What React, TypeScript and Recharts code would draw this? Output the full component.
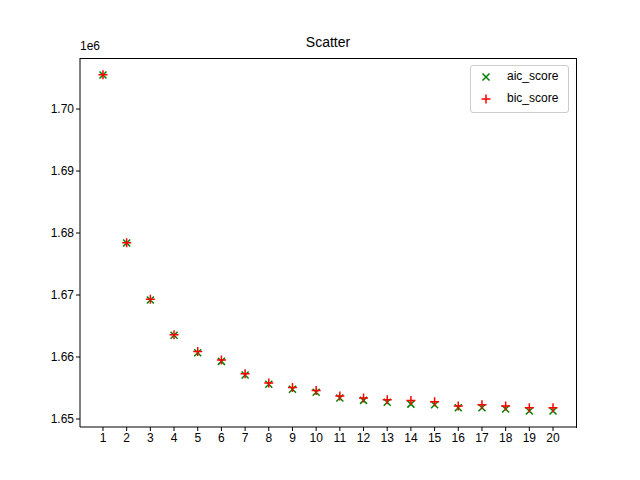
import { ScatterChart, Scatter, XAxis, YAxis } from 'recharts'

const ks = [1, 2, 3, 4, 5, 6, 7, 8, 9, 10, 11, 12, 13, 14, 15, 16, 17, 18, 19, 20]
const aic = [1.70548, 1.67839, 1.6692, 1.6635, 1.6607, 1.6593, 1.6571, 1.6556, 1.6548, 1.6543, 1.6534, 1.6530, 1.6527, 1.6524, 1.6523, 1.6518, 1.6518, 1.6516, 1.6513, 1.6513]
const bic = [1.70552, 1.67843, 1.6693, 1.6636, 1.6609, 1.6595, 1.6573, 1.6558, 1.6551, 1.6546, 1.6537, 1.6534, 1.6531, 1.6530, 1.6528, 1.6521, 1.6523, 1.6521, 1.6518, 1.6518]
const yTicks = [1.65, 1.66, 1.67, 1.68, 1.69, 1.7]

const aicData = ks.map((k, i) => ({ k, v: aic[i] }))
const bicData = ks.map((k, i) => ({ k, v: bic[i] }))

const Cross = (p: any) => (
  <path d={`M${p.cx - 3.5},${p.cy - 3.5}L${p.cx + 3.5},${p.cy + 3.5}M${p.cx - 3.5},${p.cy + 3.5}L${p.cx + 3.5},${p.cy - 3.5}`} stroke="green" strokeWidth={1.5} />
)
const Plus = (p: any) => (
  <path d={`M${p.cx - 4.5},${p.cy}L${p.cx + 4.5},${p.cy}M${p.cx},${p.cy - 4.5}L${p.cx},${p.cy + 4.5}`} stroke="red" strokeWidth={1.5} />
)

const tick = { fill: '#000', fontSize: 12 }

export default function App() {
  return (
    <div style={{ position: 'relative', margin: -8, width: 640, height: 480, background: '#fff', fontFamily: 'Liberation Sans, Arial, sans-serif' }}>
      <div style={{ position: 'absolute', top: 34, left: 80, width: 496, textAlign: 'center', fontSize: 14 }}>Scatter</div>
      <div style={{ position: 'absolute', top: 39, left: 80, fontSize: 12 }}>1e6</div>
      <ScatterChart width={640} height={480} margin={{ top: 58, right: 64, left: 0, bottom: 0 }}>
        <XAxis type="number" dataKey="k" domain={[0.03, 20.97]} ticks={ks} interval={0} tick={tick} height={53}
          stroke="#000" tickLine={{ stroke: '#000' }} tickSize={4} />
        <YAxis type="number" dataKey="v" domain={[1.64871, 1.70823]} ticks={yTicks} tick={tick} width={80}
          stroke="#000" tickSize={4} tickFormatter={(v: number) => v.toFixed(2)} />
        <Scatter data={aicData} shape={Cross} isAnimationActive={false} />
        <Scatter data={bicData} shape={Plus} isAnimationActive={false} />
      </ScatterChart>
      <div style={{ position: 'absolute', top: 58, left: 80, width: 497, height: 370, borderTop: '1px solid #000', borderRight: '1px solid #000', boxSizing: 'border-box', pointerEvents: 'none' }} />
      <div style={{ position: 'absolute', top: 65, left: 470, width: 99, height: 48, border: '1px solid #ccc', borderRadius: 3, fontSize: 12, boxSizing: 'border-box', background: '#fff' }}>
        <svg width={24} height={48} style={{ position: 'absolute', left: 0, top: 0 }}>
          <Cross cx={15} cy={11} />
          <Plus cx={15} cy={33} />
        </svg>
        <div style={{ position: 'absolute', left: 36, top: 3 }}>aic_score</div>
        <div style={{ position: 'absolute', left: 36, top: 25 }}>bic_score</div>
      </div>
    </div>
  )
}
